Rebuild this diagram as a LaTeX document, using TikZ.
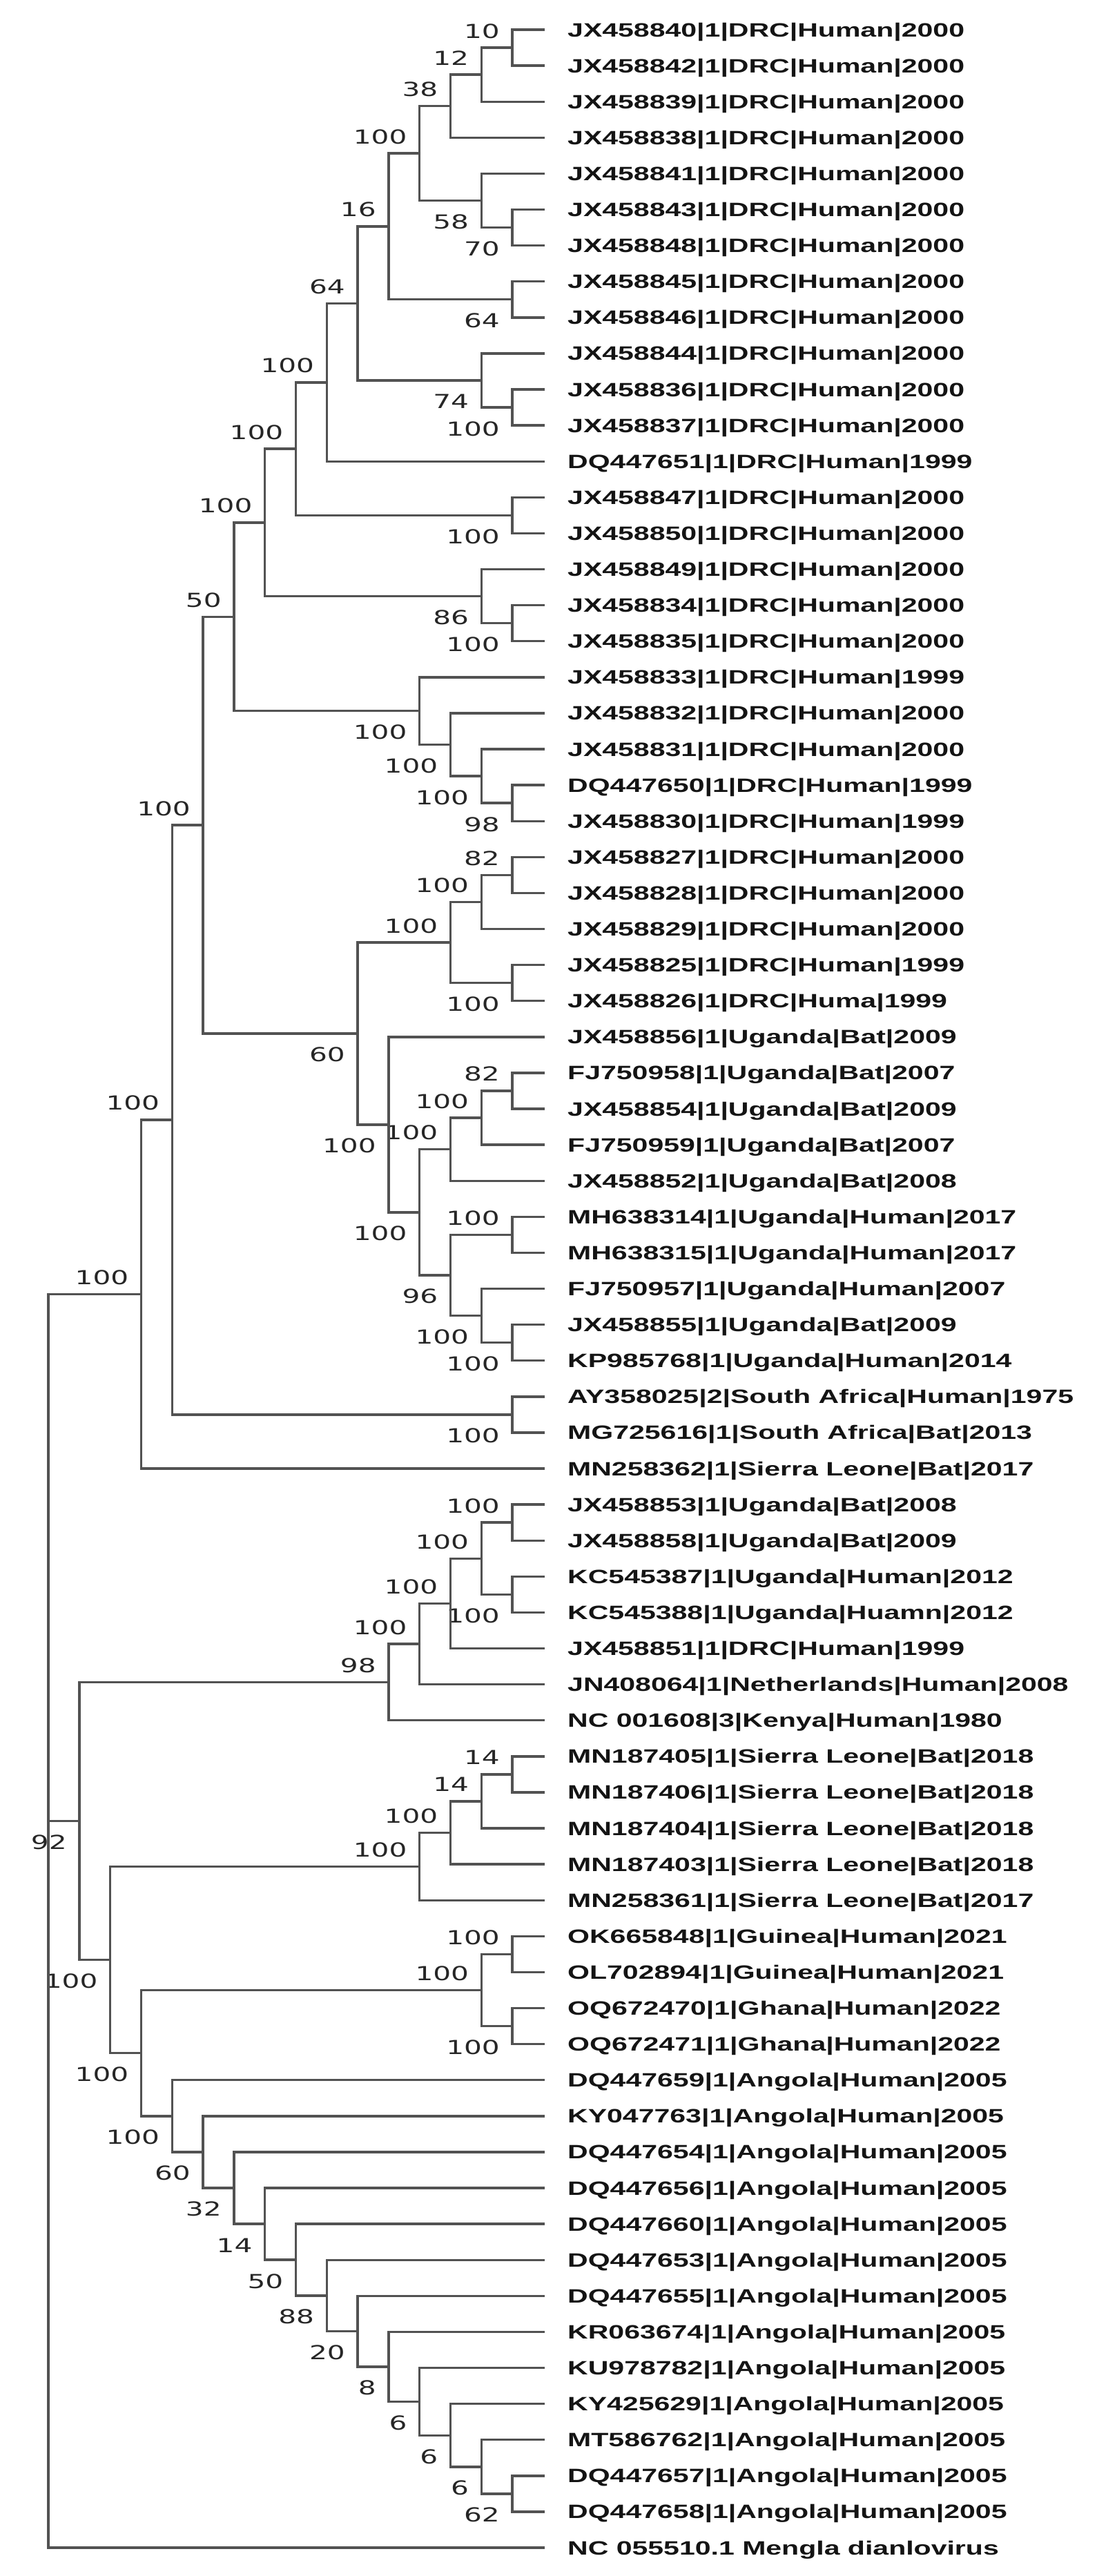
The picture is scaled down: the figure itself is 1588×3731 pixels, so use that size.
\documentclass[tikz,border=0pt]{standalone}
\usepackage{fontspec}
\setmainfont{Liberation Sans}
\newfontfamily\numfont{DejaVu Sans}
\usetikzlibrary{calc}
\tikzset{br/.style={draw=black!68,line width=3.4pt,line cap=rect,line join=miter},
 leaftext/.style={anchor=base west,inner sep=0pt,text=black!92,font=\bfseries\fontsize{28}{30}\selectfont},
 bstext/.style={inner sep=0pt,text=black!85,font=\numfont\fontsize{28}{30}\selectfont}}
\newcommand\inode[6]{%
 \path let \p1=(#3), \p2=(#4) in coordinate (#1) at ({(70+44.8*#2)*1pt},{0.5*(\y1+\y2)});
 \draw[br] (#3) -- (#1|-#3) -- (#1|-#4) -- (#4);
 \if#6a\node[bstext,anchor=base east] (lab#1) at ([xshift=-18pt,yshift=14pt]#1) {\scalebox{1.45}[1]{#5}};
 \else\node[bstext,anchor=base east] (lab#1) at ([xshift=-18pt,yshift=-41pt]#1) {\scalebox{1.45}[1]{#5}};\fi}
\begin{document}
\begin{tikzpicture}[x=1pt,y=-1pt]
\useasboundingbox (0,0) rectangle (1588,3731);
\foreach \t [count=\i] in {JX458840|1|DRC|Human|2000,JX458842|1|DRC|Human|2000,JX458839|1|DRC|Human|2000,JX458838|1|DRC|Human|2000,JX458841|1|DRC|Human|2000,JX458843|1|DRC|Human|2000,JX458848|1|DRC|Human|2000,JX458845|1|DRC|Human|2000,JX458846|1|DRC|Human|2000,JX458844|1|DRC|Human|2000,JX458836|1|DRC|Human|2000,JX458837|1|DRC|Human|2000,DQ447651|1|DRC|Human|1999,JX458847|1|DRC|Human|2000,JX458850|1|DRC|Human|2000,JX458849|1|DRC|Human|2000,JX458834|1|DRC|Human|2000,JX458835|1|DRC|Human|2000,JX458833|1|DRC|Human|1999,JX458832|1|DRC|Human|2000,JX458831|1|DRC|Human|2000,DQ447650|1|DRC|Human|1999,JX458830|1|DRC|Human|1999,JX458827|1|DRC|Human|2000,JX458828|1|DRC|Human|2000,JX458829|1|DRC|Human|2000,JX458825|1|DRC|Human|1999,JX458826|1|DRC|Huma|1999,JX458856|1|Uganda|Bat|2009,FJ750958|1|Uganda|Bat|2007,JX458854|1|Uganda|Bat|2009,FJ750959|1|Uganda|Bat|2007,JX458852|1|Uganda|Bat|2008,MH638314|1|Uganda|Human|2017,MH638315|1|Uganda|Human|2017,FJ750957|1|Uganda|Human|2007,JX458855|1|Uganda|Bat|2009,KP985768|1|Uganda|Human|2014,AY358025|2|South Africa|Human|1975,MG725616|1|South Africa|Bat|2013,MN258362|1|Sierra Leone|Bat|2017,JX458853|1|Uganda|Bat|2008,JX458858|1|Uganda|Bat|2009,KC545387|1|Uganda|Human|2012,KC545388|1|Uganda|Huamn|2012,JX458851|1|DRC|Human|1999,JN408064|1|Netherlands|Human|2008,NC 001608|3|Kenya|Human|1980,MN187405|1|Sierra Leone|Bat|2018,MN187406|1|Sierra Leone|Bat|2018,MN187404|1|Sierra Leone|Bat|2018,MN187403|1|Sierra Leone|Bat|2018,MN258361|1|Sierra Leone|Bat|2017,OK665848|1|Guinea|Human|2021,OL702894|1|Guinea|Human|2021,OQ672470|1|Ghana|Human|2022,OQ672471|1|Ghana|Human|2022,DQ447659|1|Angola|Human|2005,KY047763|1|Angola|Human|2005,DQ447654|1|Angola|Human|2005,DQ447656|1|Angola|Human|2005,DQ447660|1|Angola|Human|2005,DQ447653|1|Angola|Human|2005,DQ447655|1|Angola|Human|2005,KR063674|1|Angola|Human|2005,KU978782|1|Angola|Human|2005,KY425629|1|Angola|Human|2005,MT586762|1|Angola|Human|2005,DQ447657|1|Angola|Human|2005,DQ447658|1|Angola|Human|2005,NC 055510.1 Mengla dianlovirus}{
 \coordinate (l\i) at (787,{43+52.1*(\i-1)});
 \node[leaftext] (t\i) at (822,{53+52.1*(\i-1)}) {\scalebox{1.465}[1]{\t}};
}
% top DRC clade
\inode{n1}{15}{l1}{l2}{10}{a}
\inode{n2}{14}{n1}{l3}{12}{a}
\inode{n3}{13}{n2}{l4}{38}{a}
\inode{n5}{15}{l6}{l7}{70}{b}
\inode{n4}{14}{l5}{n5}{58}{b}
\inode{n6}{12}{n3}{n4}{100}{a}
\inode{n7}{15}{l8}{l9}{64}{b}
\inode{n8}{11}{n6}{n7}{16}{a}
\inode{n9}{15}{l11}{l12}{100}{b}
\inode{n10}{14}{l10}{n9}{74}{b}
\inode{n11}{10}{n8}{n10}{64}{a}
\inode{n12}{9}{n11}{l13}{100}{a}
\inode{n14}{15}{l14}{l15}{100}{b}
\inode{n13}{8}{n12}{n14}{100}{a}
\inode{n16}{15}{l17}{l18}{100}{b}
\inode{n15}{14}{l16}{n16}{86}{b}
\inode{n17}{7}{n13}{n15}{100}{a}
\inode{n18}{15}{l22}{l23}{98}{b}
\inode{n19}{14}{l21}{n18}{100}{b}
\inode{n20}{13}{l20}{n19}{100}{b}
\inode{n21}{12}{l19}{n20}{100}{b}
\inode{n22}{6}{n17}{n21}{50}{a}
% DRC 24-28 and Uganda
\inode{m1}{15}{l24}{l25}{82}{a}
\inode{m2}{14}{m1}{l26}{100}{a}
\inode{m3}{15}{l27}{l28}{100}{b}
\inode{m4}{13}{m2}{m3}{100}{a}
\inode{u1}{15}{l30}{l31}{82}{a}
\inode{u2}{14}{u1}{l32}{100}{a}
\inode{u3}{13}{u2}{l33}{100}{a}
\inode{u4}{15}{l34}{l35}{100}{a}
\inode{u5}{15}{l37}{l38}{100}{b}
\inode{u6}{14}{l36}{u5}{100}{b}
\inode{u7}{13}{u4}{u6}{96}{b}
\inode{u8}{12}{u3}{u7}{100}{b}
\inode{u9}{11}{l29}{u8}{100}{b}
\inode{m5}{10}{m4}{u9}{60}{b}
\inode{n23}{5}{n22}{m5}{100}{a}
\inode{sa}{15}{l39}{l40}{100}{b}
\inode{n24}{4}{n23}{sa}{100}{a}
\inode{nA}{3}{n24}{l41}{100}{a}
% second clade
\inode{k1}{15}{l42}{l43}{100}{a}
\inode{k2}{15}{l44}{l45}{100}{b}
\inode{k3}{14}{k1}{k2}{100}{a}
\inode{k4}{13}{k3}{l46}{100}{a}
\inode{k5}{12}{k4}{l47}{100}{a}
\inode{k6}{11}{k5}{l48}{98}{a}
\inode{s1}{15}{l49}{l50}{14}{a}
\inode{s2}{14}{s1}{l51}{14}{a}
\inode{s3}{13}{s2}{l52}{100}{a}
\inode{s4}{12}{s3}{l53}{100}{a}
\inode{g1}{15}{l54}{l55}{100}{a}
\inode{g2}{15}{l56}{l57}{100}{b}
\inode{g3}{14}{g1}{g2}{100}{a}
\inode{a12}{15}{l69}{l70}{62}{b}
\inode{a11}{14}{l68}{a12}{6}{b}
\inode{a10}{13}{l67}{a11}{6}{b}
\inode{a9}{12}{l66}{a10}{6}{b}
\inode{a8}{11}{l65}{a9}{8}{b}
\inode{a7}{10}{l64}{a8}{20}{b}
\inode{a6}{9}{l63}{a7}{88}{b}
\inode{a5}{8}{l62}{a6}{50}{b}
\inode{a4}{7}{l61}{a5}{14}{b}
\inode{a3}{6}{l60}{a4}{32}{b}
\inode{a2}{5}{l59}{a3}{60}{b}
\inode{a1}{4}{l58}{a2}{100}{b}
\inode{c2}{3}{g3}{a1}{100}{b}
\inode{c1}{2}{s4}{c2}{100}{b}
\inode{nB}{1}{k6}{c1}{92}{b}
% root
\coordinate (root) at (70,0);
\draw[br] (nA) -- (root|-nA) -- (root|-l71) -- (l71);
\draw[br] (nB) -- (root|-nB);
\end{tikzpicture}
\end{document}
